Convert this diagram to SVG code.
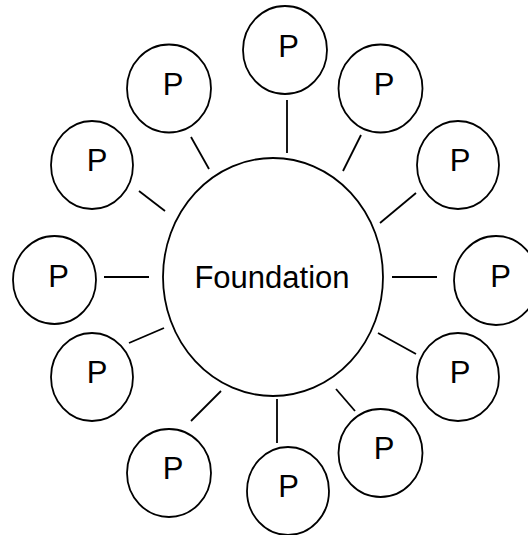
<svg xmlns="http://www.w3.org/2000/svg" width="528" height="535" viewBox="0 0 528 535">
<style>
.c{fill:#fff;stroke:#000;stroke-width:1.8}
.t{font-family:"Liberation Sans",Arial,sans-serif;font-size:31px;fill:#000;text-anchor:middle}
#connectors line{stroke:#000;stroke-width:1.8}
</style>
<rect width="528" height="535" fill="#fff"/>
<g id="connectors">
<line x1="191" y1="137" x2="209" y2="169"/>
<line x1="139" y1="191" x2="165" y2="211"/>
<line x1="104" y1="277" x2="149" y2="277"/>
<line x1="287" y1="100" x2="287" y2="153"/>
<line x1="361" y1="135" x2="343" y2="171"/>
<line x1="416" y1="193" x2="380" y2="223"/>
<line x1="392" y1="277" x2="437" y2="277"/>
<line x1="129" y1="343" x2="164" y2="328"/>
<line x1="191" y1="421" x2="221" y2="391"/>
<line x1="277" y1="399" x2="277" y2="443"/>
<line x1="336" y1="389" x2="355" y2="411"/>
<line x1="378" y1="333" x2="416" y2="354"/>
</g>
<g id="foundation"><ellipse class="c" cx="273" cy="277" rx="110" ry="119"/><text class="t" x="272" y="288">Foundation</text></g>
<g id="pA"><ellipse class="c" cx="169" cy="88.5" rx="42" ry="44"/><text class="t" x="173" y="95">P</text></g>
<g id="pB"><ellipse class="c" cx="92" cy="165" rx="41" ry="44"/><text class="t" x="97" y="171">P</text></g>
<g id="pC"><ellipse class="c" cx="54.5" cy="280" rx="41.5" ry="44"/><text class="t" x="58.5" y="287">P</text></g>
<g id="pD"><ellipse class="c" cx="285" cy="50" rx="42" ry="44"/><text class="t" x="288.5" y="57">P</text></g>
<g id="pE"><ellipse class="c" cx="380.5" cy="88.5" rx="42" ry="44"/><text class="t" x="384" y="95">P</text></g>
<g id="pF"><ellipse class="c" cx="458" cy="165" rx="41" ry="44"/><text class="t" x="460" y="171">P</text></g>
<g id="pG"><ellipse class="c" cx="496" cy="280.5" rx="42" ry="44.5"/><text class="t" x="500.5" y="287">P</text></g>
<g id="pH"><ellipse class="c" cx="92" cy="377" rx="41" ry="44"/><text class="t" x="97" y="383">P</text></g>
<g id="pI"><ellipse class="c" cx="169" cy="473" rx="42" ry="44"/><text class="t" x="173" y="479">P</text></g>
<g id="pJ"><ellipse class="c" cx="288" cy="491" rx="41" ry="44"/><text class="t" x="288.5" y="497">P</text></g>
<g id="pK"><ellipse class="c" cx="380.5" cy="453" rx="42" ry="44"/><text class="t" x="384" y="459">P</text></g>
<g id="pL"><ellipse class="c" cx="458" cy="377" rx="41" ry="44"/><text class="t" x="460" y="383">P</text></g>
</svg>
